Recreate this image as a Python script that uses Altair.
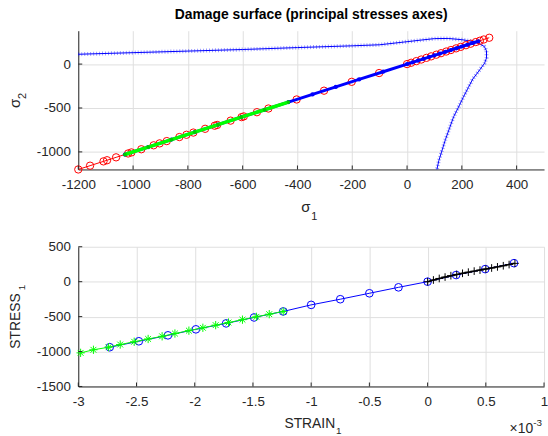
import altair as alt
import pandas as pd

FONT = "Liberation Sans"
DARK = "#262626"
GRID = "#dfdfdf"
BLUE = "#0000ff"
RED = "#ff0000"
GREEN = "#00ff00"

# ---------------- top panel: principal stresses ----------------
surf_s1 = [-1200, -1000, -800, -600, -400, -200, -100, 0, 50, 100, 150, 200, 240, 265, 282,
           290, 290, 283, 262, 240, 224, 205, 188, 170, 155, 140, 127, 116, 109]
surf_s2 = [112, 130, 148, 166, 188, 208, 220, 255, 273, 290, 292, 278, 258, 232, 200,
           150, 70, 10, -80, -170, -265, -380, -489, -600, -730, -860, -990, -1100, -1200]

red_s1 = [-1200, -1157, -1108, -1095, -1062, -1018, -1006, -970, -925, -903, -877, -831, -805,
          -780, -737, -702, -693, -644, -604, -596, -548, -506, -403, -303, -202, -102, 0, 15,
          34, 52, 71, 88, 107, 124, 143, 160, 179, 196, 215, 232, 251, 266, 280, 300]
red_s2 = [-1200, -1157, -1108, -1095, -1062, -1018, -1006, -970, -925, -903, -877, -831, -805,
          -780, -737, -702, -693, -644, -604, -596, -548, -506, -403, -303, -202, -102, 0, 15,
          34, 52, 71, 88, 107, 124, 143, 160, 179, 196, 215, 232, 251, 266, 280, 300]

blue_s1 = [-1030, -945, -860, -775, -690, -605, -520, -433, -345, -260, -175, -87, 0,
           20, 40, 60, 80, 100, 120, 140, 160, 180, 200, 220, 240, 260]
blue_s2 = [-1030, -945, -860, -775, -690, -605, -520, -433, -345, -260, -175, -87, 0,
           20, 40, 60, 80, 100, 120, 140, 160, 180, 200, 220, 240, 260]

green_s1 = [-1030, -945, -860, -775, -690, -605, -520, -433]
green_s2 = [-1030, -945, -860, -775, -690, -605, -520, -433]

top_x_ticks = [-1200, -1000, -800, -600, -400, -200, 0, 200, 400]
top_y_ticks = [-1000, -500, 0]

# ---------------- bottom panel: stress-strain (strain in 1e-3) ----------------
circ_strain = [-2.73, -2.48, -2.23, -1.99, -1.73, -1.49, -1.24, -1.00, -0.75, -0.50, -0.25,
               0.0, 0.245, 0.495, 0.742]
circ_stress = [-938, -853, -768, -682, -597, -512, -426, -332, -251, -166, -81,
               0, 95, 180, 265]

green_strain = [-2.98, -2.87, -2.74, -2.64, -2.52, -2.40, -2.28, -2.17, -2.05, -1.93, -1.82,
                -1.71, -1.59, -1.47, -1.36, -1.24]
green_stress = [-1019, -975, -938, -900, -860, -820, -782, -742, -701, -660, -622,
                -585, -544, -503, -465, -426]

black_strain = [0.0, 0.05, 0.10, 0.15, 0.20, 0.25, 0.30, 0.35, 0.40, 0.45, 0.50, 0.55,
                0.60, 0.65, 0.70, 0.75]
black_stress = [0, 24, 46, 66, 86, 104, 120, 136, 151, 166, 181, 196, 212, 228, 245, 262]

bot_x_ticks = [-3, -2.5, -2, -1.5, -1, -0.5, 0, 0.5, 1]
bot_y_ticks = [-1500, -1000, -500, 0, 500]

W = 470
H1 = 140
H2 = 141

ASTERISK = "M-1,0L1,0M0,-1L0,1M-0.7,-0.7L0.7,0.7M-0.7,0.7L0.7,-0.7"
PLUS = "M-1,0L1,0M0,-1L0,1"


def frame(xs, ys):
    return pd.DataFrame({"x": xs, "y": ys, "i": list(range(len(xs)))})


def label(text, x, y, size=14, angle=0, align="left"):
    props = dict(font=FONT, fontSize=size, color=DARK, align=align, baseline="alphabetic")
    if angle:
        props["angle"] = angle
    return alt.Chart(pd.DataFrame({"t": [text]})).mark_text(**props).encode(
        text="t:N", x=alt.value(x), y=alt.value(y))


def make_panel(xdom, ydom, xticks, yticks, height, layers_spec):
    xs = alt.Scale(domain=xdom, nice=False, zero=False)
    ys = alt.Scale(domain=ydom, nice=False, zero=False)
    x_axis = alt.Axis(values=xticks, title=None, grid=True, labelFlush=False,
                      labelOverlap=False, labelExpr="'' + datum.value")
    y_axis = alt.Axis(values=yticks, title=None, grid=True, labelFlush=False,
                      labelOverlap=False, labelExpr="'' + datum.value")
    layers = []
    for df, kind, props in layers_spec:
        xe = alt.X("x:Q", scale=xs, axis=x_axis)
        ye = alt.Y("y:Q", scale=ys, axis=y_axis)
        base = alt.Chart(df)
        if kind == "line":
            m = base.mark_line(**props)
            layers.append(m.encode(x=xe, y=ye, order="i:Q"))
        else:
            m = base.mark_point(**props)
            layers.append(m.encode(x=xe, y=ye))
    # inward tick marks (MATLAB style)
    xt = pd.DataFrame({"x": xticks})
    yt = pd.DataFrame({"y": yticks})
    layers.append(alt.Chart(xt).mark_rule(color=DARK, strokeWidth=1).encode(
        x=alt.X("x:Q", scale=xs, axis=x_axis), y=alt.value(height), y2=alt.value(height - 4)))
    layers.append(alt.Chart(yt).mark_rule(color=DARK, strokeWidth=1).encode(
        y=alt.Y("y:Q", scale=ys, axis=y_axis), x=alt.value(0), x2=alt.value(4)))
    return layers


top_layers = make_panel(
    [-1200, 500], [-1200, 380], top_x_ticks, top_y_ticks, H1,
    [
        (frame(surf_s1, surf_s2), "line", dict(color=BLUE, strokeWidth=1)),
        (frame(surf_s1, surf_s2), "line", dict(color=BLUE, strokeWidth=4, strokeDash=[1, 2], opacity=0.4)),
        (frame(red_s1, red_s2), "line", dict(color=RED, strokeWidth=1)),
        (frame(red_s1, red_s2), "point", dict(shape="circle", filled=False, color=RED, size=55, strokeWidth=1, opacity=1)),
        (frame(blue_s1, blue_s2), "line", dict(color=BLUE, strokeWidth=3)),
        (frame(blue_s1, blue_s2), "point", dict(shape="circle", filled=True, color=BLUE, size=18, opacity=1)),
        (frame(green_s1, green_s2), "line", dict(color=GREEN, strokeWidth=3.5)),
        (frame(green_s1, green_s2), "point", dict(shape="circle", filled=True, color="#00cc00", size=14, opacity=1)),
    ],
)

top_titles = [
    label("σ", 225, H1 + 43, size=15),
    label("1", 235, H1 + 51, size=11),
    label("σ", -59, 78, size=15, angle=270),
    label("2", -53, 69, size=11, angle=270),
]

top = alt.layer(*top_layers, *top_titles).properties(
    width=W, height=H1,
    title=alt.TitleParams("Damage surface (principal stresses axes)", font=FONT, fontSize=14,
                          fontWeight="bold", color="black", anchor="middle", frame="group",
                          offset=9),
)

bot_layers = make_panel(
    [-3, 1], [-1500, 500], bot_x_ticks, bot_y_ticks, H2,
    [
        (frame(circ_strain, circ_stress), "line", dict(color=BLUE, strokeWidth=1)),
        (frame(circ_strain, circ_stress), "point", dict(shape="circle", filled=False, color=BLUE, size=60, strokeWidth=1, opacity=1)),
        (frame(green_strain, green_stress), "line", dict(color=GREEN, strokeWidth=1)),
        (frame(green_strain, green_stress), "point", dict(shape=ASTERISK, filled=False, color=GREEN, size=70, strokeWidth=1, opacity=1)),
        (frame(black_strain, black_stress), "line", dict(color="black", strokeWidth=1.5)),
        (frame(black_strain, black_stress), "point", dict(shape=PLUS, filled=False, color="black", size=60, strokeWidth=1, opacity=1)),
    ],
)

bot_titles = [
    label("STRAIN", 208, H2 + 42),
    label("1", 260, H2 + 48, size=10),
    label("STRESS", -59, 103, angle=270),
    label("1", -54, 44, size=10, angle=270),
    label("×10", W - 11, H2 + 47, align="right"),
    label("-3", W - 11, H2 + 40, size=10),
]

bottom = alt.layer(*bot_layers, *bot_titles).properties(width=W, height=H2)

chart = alt.vconcat(top, bottom, spacing=18).properties(
    padding={"left": 8, "top": 5, "right": 0, "bottom": 0}
).configure_view(stroke=None).configure_axis(
    labelFont=FONT, labelFontSize=13.5, labelColor=DARK,
    domainColor=DARK, domainWidth=1, ticks=False, gridColor=GRID, gridWidth=1,
    labelPadding=8,
)

chart.save("out.html", embed_options={"renderer": "svg", "actions": False})
